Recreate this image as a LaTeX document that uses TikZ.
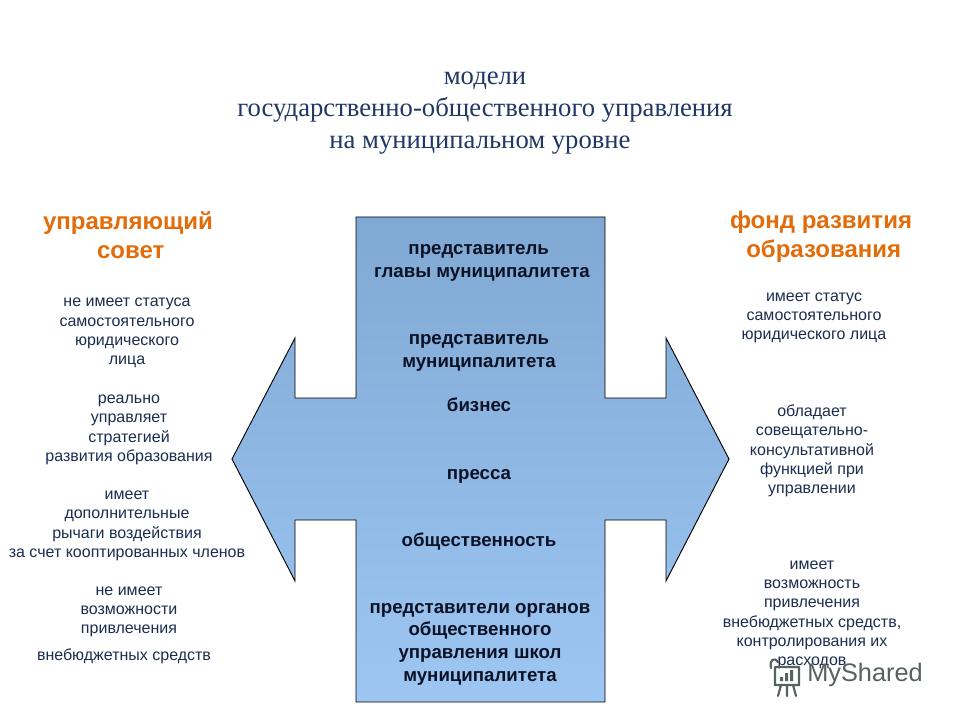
\documentclass[tikz,border=0pt]{standalone}
\usepackage{fontspec}
\setmainfont{Liberation Sans}
\newfontfamily\serifrm{Liberation Serif}
\usetikzlibrary{shadings}
\definecolor{navy}{HTML}{1F3864}
\definecolor{small}{HTML}{1B2E4F}
\definecolor{boldtxt}{HTML}{0C1226}
\definecolor{orangeh}{HTML}{E36C0A}
\definecolor{topblue}{HTML}{7FA9D3}
\definecolor{botblue}{HTML}{9DC6F3}
\definecolor{logogray}{HTML}{56625F}
\tikzset{
  x=0.75pt,y=-0.75pt,
  titletext/.style={font=\serifrm\fontsize{20}{24}\selectfont,text=navy,align=center,inner sep=0},
  headtext/.style={font=\fontsize{18}{22}\bfseries\selectfont,text=orangeh,align=center,inner sep=0},
  smalltext/.style={font=\fontsize{12}{14.5}\selectfont,text=small,align=center,inner sep=0},
  boldbox/.style={font=\fontsize{14}{17}\bfseries\selectfont,text=boldtxt,align=center,inner sep=0},
}
\begin{document}
\begin{tikzpicture}
\useasboundingbox (0,0) rectangle (960,720);
\fill[white] (0,0) rectangle (960,720);
\draw[draw=black,line width=0.7pt,top color=topblue,bottom color=botblue]
  (356,217) -- (605,217) -- (605,398) -- (666,398) -- (666,338) -- (729,459)
  -- (666,581) -- (666,520) -- (605,520) -- (605,702) -- (356,702) -- (356,520)
  -- (295,520) -- (295,581) -- (232,459) -- (295,338) -- (295,398) -- (356,398) -- cycle;

\node[titletext] (title) at (485,113) {модели\\государственно-общественного управления\\на муниципальном уровне\hspace*{7.5pt}};

\node[headtext] (lhead) at (128,235) {управляющий\\\hspace*{4pt}совет};
\node[headtext] (rhead) at (821,237) {фонд развития\\\hspace*{4pt}образования};

\node[smalltext] (l1) at (127,333) {не имеет статуса\\самостоятельного\\юридического\\лица};
\node[smalltext] (l2) at (129,430) {реально\\управляет\\стратегией\\развития образования};
\node[smalltext] (l3) at (127,526) {имеет\\дополнительные\\рычаги воздействия\\за счет кооптированных членов};
\node[smalltext] (l4) at (129,612) {не имеет\\возможности\\привлечения};
\node[smalltext] (l5) at (124,656) {внебюджетных средств};

\node[smalltext] (r1) at (814,318) {имеет статус\\самостоятельного\\юридического лица};
\node[smalltext] (r2) at (812,451) {обладает\\совещательно-\\консультативной\\функцией при\\управлении};
\node[smalltext] (r3) at (812,615) {имеет\\возможность\\привлечения\\внебюджетных средств,\\контролирования их\\расходов};

\node[boldbox] (b1) at (482,263) {представитель\hspace*{5pt}\\главы муниципалитета};
\node[boldbox] (b2) at (479,353) {представитель\\муниципалитета};
\node[boldbox] (b3) at (479,405) {бизнес};
\node[boldbox] (b4) at (479,476) {пресса};
\node[boldbox] (b5) at (479,542) {общественность};
\node[boldbox] (b6) at (480,644) {представители органов\\общественного\\управления школ\\муниципалитета};

% watermark
\draw[logogray,line width=1.6pt,line cap=round] (775,667) -- (799,667) (775,667) -- (775,685) -- (799,685) -- (799,667)
  (771,668) .. controls (769,659) and (775,657) .. (778,662)
  (781,685) -- (778,696) (787,685) -- (787,696) (793,685) -- (796,696);
\fill[logogray] (780,677) rectangle (783,681) (785,673) rectangle (788,681) (790,670) rectangle (793,681);
\node[inner sep=0,font=\fontsize{19}{19}\selectfont,text=logogray] (logo) at (865,675) {MyShared};
\end{tikzpicture}
\end{document}
